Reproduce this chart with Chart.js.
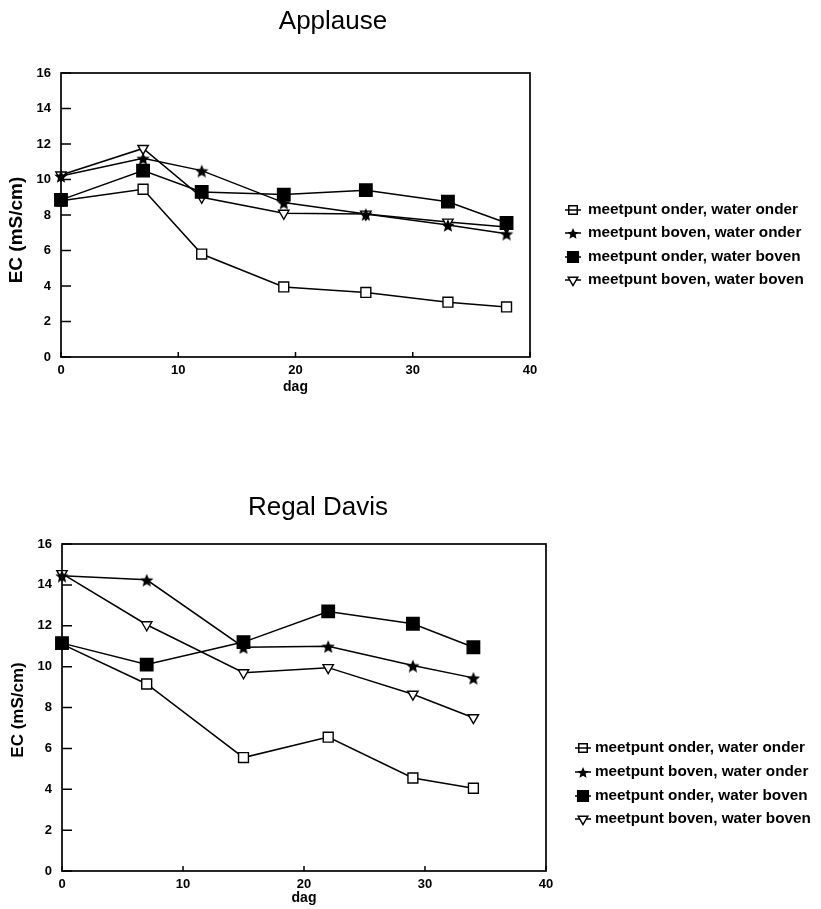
<!DOCTYPE html>
<html>
<head>
<meta charset="utf-8">
<title>EC verloop</title>
<script src="https://cdn.jsdelivr.net/npm/chart.js@4.4.1/dist/chart.umd.min.js"></script>
<style>
  html, body { margin: 0; padding: 0; background: #fff; }
  body { width: 821px; height: 909px; position: relative; overflow: hidden; }
  canvas { position: absolute; left: 0; }
  #chart-applause { top: 0; }
  #chart-regal { top: 430px; }
</style>
</head>
<body>
<canvas id="chart-applause" width="821" height="420"></canvas>
<canvas id="chart-regal" width="821" height="479"></canvas>
<script>
const seriesLabels = [
    'meetpunt onder, water onder',
    'meetpunt boven, water onder',
    'meetpunt onder, water boven',
    'meetpunt boven, water boven'
];
const xTicks = [0, 10, 20, 30, 40];
const yTicks = [0, 2, 4, 6, 8, 10, 12, 14, 16];

// Applause
const dagApplause = [0, 7, 12, 19, 26, 33, 38];
const applauseOnderOnder = [8.8, 9.45, 5.8, 3.95, 3.64, 3.09, 2.82];
const applauseBovenOnder = [10.2, 11.2, 10.5, 8.7, 8.05, 7.44, 6.95];
const applauseOnderBoven = [8.85, 10.5, 9.3, 9.15, 9.4, 8.75, 7.55];
const applauseBovenBoven = [10.25, 11.75, 9.0, 8.1, 8.05, 7.6, 7.32];

// Regal Davis
const dagRegal = [0, 7, 15, 22, 29, 34];
const regalOnderOnder = [11.1, 9.15, 5.55, 6.55, 4.55, 4.05];
const regalBovenOnder = [14.45, 14.25, 10.95, 11.0, 10.05, 9.45];
const regalOnderBoven = [11.15, 10.1, 11.2, 12.7, 12.1, 10.95];
const regalBovenBoven = [14.55, 12.05, 9.7, 9.95, 8.65, 7.5];

const FONT = "'Liberation Sans', Arial, Helvetica, sans-serif";

function makeStar(size) {
    const c = document.createElement('canvas');
    c.width = size;
    c.height = size;
    const ctx = c.getContext('2d');
    const r = size / 2;
    const ri = r * 0.45;
    ctx.beginPath();
    for (let i = 0; i < 10; i++) {
        const rad = i % 2 ? ri : r;
        const a = -Math.PI / 2 + i * Math.PI / 5;
        ctx.lineTo(r + rad * Math.cos(a), r + 1 + rad * Math.sin(a));
    }
    ctx.closePath();
    ctx.fillStyle = '#000';
    ctx.fill();
    return c;
}

const starImg = makeStar(14);
const starSmall = makeStar(12);

// marker per series, same order as seriesLabels
const markers = [
    { pointStyle: 'rect', radius: 7, rotation: 0, fill: '#fff', legendStyle: 'rect', legendRadius: 6, lineOnTop: true },
    { pointStyle: starImg, radius: 6, rotation: 0, fill: '#000', legendStyle: starSmall, legendRadius: 5 },
    { pointStyle: 'rect', radius: 8.8, rotation: 0, fill: '#000', legendStyle: 'rect', legendRadius: 7.5 },
    { pointStyle: 'triangle', radius: 6, rotation: 180, fill: '#fff', legendStyle: 'triangle', legendRadius: 5.5 }
];
const drawOrder = [2, 1, 0, 3];

function buildDatasets(dag, seriesList) {
    return seriesList.map((values, i) => ({
        label: seriesLabels[i],
        data: dag.map((d, k) => ({ x: d, y: values[k] })),
        borderColor: '#000',
        borderWidth: 1.5,
        backgroundColor: markers[i].fill,
        pointStyle: markers[i].pointStyle,
        pointRadius: markers[i].radius,
        pointRotation: markers[i].rotation,
        pointBackgroundColor: markers[i].fill,
        pointBorderColor: '#000',
        pointBorderWidth: 1.4,
        tension: 0,
        clip: false,
        order: drawOrder[i]
    }));
}

function drawMarker(ctx, m, x, y) {
    const opts = { pointStyle: m.legendStyle, radius: m.legendRadius, rotation: m.rotation, borderWidth: 1.4 };
    if (Chart.helpers && Chart.helpers.drawPoint) {
        Chart.helpers.drawPoint(ctx, opts, x, y);
    } else if (typeof m.legendStyle !== 'string') {
        ctx.drawImage(m.legendStyle, x - m.legendStyle.width / 2, y - m.legendStyle.height / 2);
    } else {
        const s = m.legendRadius * Math.SQRT1_2;
        ctx.beginPath();
        ctx.rect(x - s, y - s, 2 * s, 2 * s);
        ctx.fill();
        ctx.stroke();
    }
}

function legendLine(ctx, x, y) {
    ctx.beginPath();
    ctx.moveTo(x - 8, y);
    ctx.lineTo(x + 8, y);
    ctx.stroke();
}

// frame around the plot and inward tick marks
const framePlugin = {
    id: 'ecFrame',
    beforeDatasetsDraw(chart) {
        const { ctx, chartArea: a, scales } = chart;
        ctx.save();
        ctx.strokeStyle = '#000';
        ctx.lineWidth = 1.7;
        ctx.strokeRect(a.left, a.top, a.right - a.left, a.bottom - a.top);
        ctx.lineWidth = 1.5;
        ctx.beginPath();
        yTicks.forEach((v) => {
            const y = scales.y.getPixelForValue(v);
            ctx.moveTo(a.left, y);
            ctx.lineTo(a.left + 10, y);
        });
        xTicks.forEach((v) => {
            const x = scales.x.getPixelForValue(v);
            ctx.moveTo(x, a.bottom);
            ctx.lineTo(x, a.bottom - 5);
        });
        ctx.stroke();
        ctx.restore();
    }
};

// chart title, y-axis title and legend at fixed spots around the plot
const decorPlugin = {
    id: 'ecDecor',
    afterDraw(chart, args, opts) {
        const { ctx } = chart;
        ctx.save();
        ctx.fillStyle = '#000';
        ctx.textBaseline = 'middle';
        ctx.textAlign = 'center';
        ctx.font = `26px ${FONT}`;
        ctx.fillText(opts.title, opts.titleX, opts.titleY);

        ctx.save();
        ctx.translate(opts.yTitleX, opts.yTitleY);
        ctx.rotate(-Math.PI / 2);
        ctx.font = `bold ${opts.yTitleSize}px ${FONT}`;
        ctx.fillText('EC (mS/cm)', 0, 0);
        ctx.restore();

        ctx.textAlign = 'left';
        ctx.font = `bold 15.3px ${FONT}`;
        seriesLabels.forEach((label, i) => {
            const y = opts.rows[i];
            const m = markers[i];
            ctx.strokeStyle = '#000';
            ctx.lineWidth = 1.5;
            if (!m.lineOnTop) legendLine(ctx, opts.markerX, y);
            ctx.fillStyle = m.fill;
            drawMarker(ctx, m, opts.markerX, y);
            if (m.lineOnTop) legendLine(ctx, opts.markerX, y);
            ctx.fillStyle = '#000';
            ctx.fillText(label, opts.textX, y);
        });
        ctx.restore();
    }
};

function makeChart(canvasId, dag, seriesList, box, decor) {
    const canvas = document.getElementById(canvasId);
    const tickFont = { family: FONT, size: 13, weight: 'bold' };
    return new Chart(canvas, {
        type: 'line',
        data: { datasets: buildDatasets(dag, seriesList) },
        options: {
            responsive: false,
            animation: false,
            events: [],
            layout: {
                padding: { top: box.top, right: box.right, bottom: 0, left: 0 }
            },
            plugins: {
                legend: { display: false },
                tooltip: { enabled: false },
                title: { display: false },
                ecDecor: decor
            },
            scales: {
                x: {
                    type: 'linear',
                    min: 0,
                    max: 40,
                    afterBuildTicks: (s) => { s.ticks = xTicks.map((v) => ({ value: v })); },
                    afterFit: (s) => { s.height = box.xHeight; },
                    ticks: { font: tickFont, color: '#000', padding: 6, maxRotation: 0, autoSkip: false },
                    grid: { display: false, drawTicks: false },
                    border: { display: false },
                    title: {
                        display: true,
                        text: 'dag',
                        color: '#000',
                        font: { family: FONT, size: 14, weight: 'bold' },
                        padding: { top: 0, bottom: box.xTitlePad }
                    }
                },
                y: {
                    type: 'linear',
                    min: 0,
                    max: 16,
                    afterBuildTicks: (s) => { s.ticks = yTicks.map((v) => ({ value: v })); },
                    afterFit: (s) => { s.width = box.left; },
                    ticks: { font: tickFont, color: '#000', padding: 10 },
                    grid: { display: false, drawTicks: false },
                    border: { display: false }
                }
            }
        },
        plugins: [framePlugin, decorPlugin]
    });
}

makeChart('chart-applause', dagApplause,
    [applauseOnderOnder, applauseBovenOnder, applauseOnderBoven, applauseBovenBoven],
    { top: 73, right: 291, left: 61, xHeight: 63, xTitlePad: 24 },
    { title: 'Applause', titleX: 333, titleY: 22, yTitleX: 17, yTitleY: 230, yTitleSize: 19,
      markerX: 573, textX: 588, rows: [210, 233, 257, 280] });

makeChart('chart-regal', dagRegal,
    [regalOnderOnder, regalBovenOnder, regalOnderBoven, regalBovenBoven],
    { top: 114, right: 275, left: 62, xHeight: 38, xTitlePad: 2 },
    { title: 'Regal Davis', titleX: 318, titleY: 78, yTitleX: 18, yTitleY: 280, yTitleSize: 17,
      markerX: 583, textX: 595, rows: [318, 342, 366, 389] });
</script>
</body>
</html>
